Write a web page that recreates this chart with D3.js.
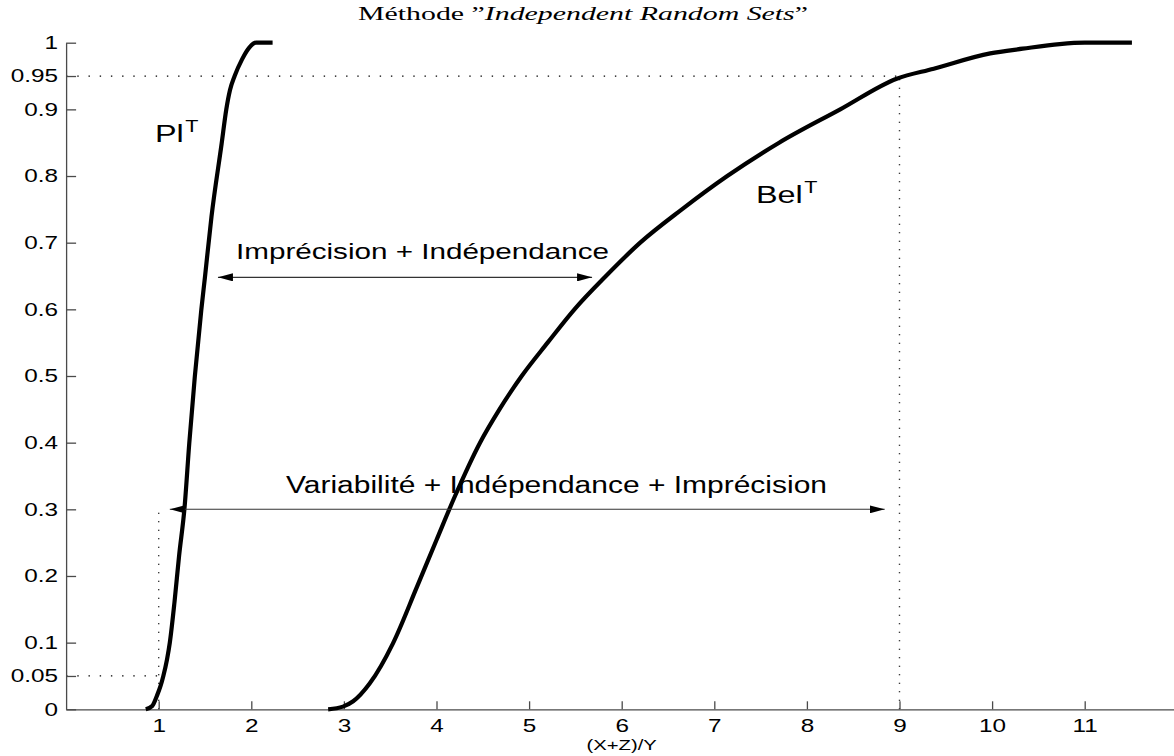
<!DOCTYPE html>
<html><head><meta charset="utf-8">
<script src="https://cdn.jsdelivr.net/npm/d3@7"></script>
<style>body{margin:0;background:#fff}svg{display:block}</style>
</head><body>
<svg id="c" width="1174" height="756"></svg>
<script>
// ---- data ----
const xTicks = [1,2,3,4,5,6,7,8,9,10,11];
const yTicks = [0,0.05,0.1,0.2,0.3,0.4,0.5,0.6,0.7,0.8,0.9,0.95,1];
const yTickLabels = ["0","0.05","0.1","0.2","0.3","0.4","0.5","0.6","0.7","0.8","0.9","0.95","1"];
const plX = [0.86,0.93,0.98,1.02,1.05,1.09,1.12,1.17,1.22,1.28,1.33,1.39,1.46,1.50,1.57,1.68,1.73,1.77,1.82,1.90,1.98,2.05,2.23];
const plY = [0,0.005,0.02,0.035,0.05,0.075,0.1,0.16,0.23,0.304,0.399,0.499,0.599,0.649,0.739,0.849,0.9,0.929,0.95,0.975,0.993,1.0,1.0];
const belX = [2.83,2.99,3.1,3.28,3.53,3.79,4.0,4.2,4.47,4.68,4.92,5.2,5.49,5.83,6.2,6.65,7.14,7.7,8.36,8.97,9.37,9.98,10.33,10.73,11.0,11.51];
const belY = [0,0.004,0.012,0.039,0.099,0.184,0.254,0.32,0.4,0.45,0.5,0.55,0.6,0.65,0.7,0.75,0.8,0.85,0.9,0.946,0.961,0.984,0.991,0.998,1.0,1.0];
const titleText = ["Méthode ”", "Independent Random Sets", "”"];
const xLabel = "(X+Z)/Y";
const curveLabels = [{name:"Pl", sup:"T", x:0.96, y:0.851},{name:"Bel", sup:"T", x:7.45, y:0.759}];
const arrows = [{x1:1.64, x2:5.68, y:0.648}, {x1:1.12, x2:8.84, y:0.3}];
const arrowTexts = [{text:"Imprécision + Indépendance", x:1.835, y:0.676, len:373, size:22},
                    {text:"Variabilité + Indépendance + Imprécision", x:2.375, y:0.324, len:541, size:23}];
const guideH = [{y:0.95, x1:0, x2:9}, {y:0.05, x1:0, x2:1.0}];
const guideV = [{x:9, y1:0, y2:0.95}, {x:1.0, y1:0, y2:0.3}];

// ---- drawing ----
const SX = 1.35;
const svg = d3.select("#c");
const x = d3.scaleLinear().domain([0,12]).range([66.1, 66.1 + 12*92.6]);
const y = d3.scaleLinear().domain([0,1]).range([709.3, 42.7]);

const defs = svg.append("defs");
defs.append("marker").attr("id","ah").attr("viewBox","0 0 15 8").attr("refX",15).attr("refY",4)
  .attr("markerWidth",15).attr("markerHeight",8).attr("markerUnits","userSpaceOnUse").attr("orient","auto-start-reverse")
  .append("path").attr("d","M0,0 L15,4 L0,8 Z").attr("fill","#000");

// guides
svg.append("g").selectAll("line").data(guideH).join("line")
  .attr("x1",d=>x(d.x1)).attr("x2",d=>x(d.x2)).attr("y1",d=>y(d.y)).attr("y2",d=>y(d.y))
  .attr("stroke","#000").attr("stroke-width",1.3).attr("stroke-dasharray","1.4,9.8");
svg.append("g").selectAll("line").data(guideV).join("line")
  .attr("x1",d=>x(d.x)).attr("x2",d=>x(d.x)).attr("y1",d=>y(d.y1)).attr("y2",d=>y(d.y2))
  .attr("stroke","#000").attr("stroke-width",1.4).attr("stroke-dasharray","1.1,7.4");

// axes
const ax = svg.append("g").attr("transform",`translate(0,${y(0)})`)
  .call(d3.axisBottom(x).tickValues(xTicks).tickFormat(d3.format("d")).tickSizeInner(-8).tickSizeOuter(0).tickPadding(10));
const ay = svg.append("g").attr("transform",`translate(${x(0)},0)`)
  .call(d3.axisLeft(y).tickValues(yTicks).tickFormat((d,i)=>yTickLabels[i]).tickSizeInner(-10).tickSizeOuter(0).tickPadding(8));
[ax, ay].forEach(g=>{
  g.select(".domain").attr("stroke","#4a4a4a").attr("stroke-width",1.3);
  g.selectAll(".tick line").attr("stroke","#4a4a4a").attr("stroke-width",1.3);
  g.selectAll(".tick text").attr("fill","#000").style("font-family","'Liberation Sans',Arial,sans-serif").style("font-size","18px");
});
ay.selectAll(".tick text").attr("x",-8/SX).attr("transform",`scale(${SX},1)`);
ax.selectAll(".tick text").attr("transform",`scale(${SX},1)`);

// curves
const line = d3.line().x(d=>x(d[0])).y(d=>y(d[1])).curve(d3.curveMonotoneX);
svg.append("path").datum(plX.map((v,i)=>[v,plY[i]])).attr("d",line)
  .attr("fill","none").attr("stroke","#000").attr("stroke-width",4.2).attr("stroke-linejoin","round");
svg.append("path").datum(belX.map((v,i)=>[v,belY[i]])).attr("d",line)
  .attr("fill","none").attr("stroke","#000").attr("stroke-width",4.2).attr("stroke-linejoin","round");

// arrows
svg.append("g").selectAll("line").data(arrows).join("line")
  .attr("x1",d=>x(d.x1)).attr("x2",d=>x(d.x2)).attr("y1",d=>y(d.y)).attr("y2",d=>y(d.y))
  .attr("stroke","#333").attr("stroke-width",1.1)
  .attr("marker-start","url(#ah)").attr("marker-end","url(#ah)");

// arrow texts
svg.append("g").selectAll("text").data(arrowTexts).join("text")
  .attr("x",d=>x(d.x)).attr("y",d=>y(d.y)).attr("textLength",d=>d.len).attr("lengthAdjust","spacingAndGlyphs")
  .style("font-family","'Liberation Sans',Arial,sans-serif").style("font-size",d=>d.size+"px").attr("fill","#000")
  .text(d=>d.text);

// curve labels
const cl = svg.append("g").selectAll("g").data(curveLabels).join("g")
  .attr("transform",d=>`translate(${x(d.x)},${y(d.y)}) scale(${SX},1)`);
cl.append("text").style("font-family","'Liberation Sans',Arial,sans-serif").style("font-size","24px")
  .each(function(d){
    const t = d3.select(this);
    t.append("tspan").text(d.name);
    t.append("tspan").attr("dy",-10).attr("dx",1).style("font-size","16px").text(d.sup);
  });

// title
const tt = svg.append("text").attr("x",583).attr("y",20).attr("text-anchor","middle")
  .style("font-family","'Liberation Serif','Times New Roman',serif").style("font-size","18px").attr("fill","#000")
  .attr("textLength",450).attr("lengthAdjust","spacingAndGlyphs");
tt.append("tspan").text(titleText[0]);
tt.append("tspan").style("font-style","italic").text(titleText[1]);
tt.append("tspan").text(titleText[2]);

// x label
svg.append("g").attr("transform",`translate(${x(6)},750) scale(${SX},1)`).append("text")
  .attr("text-anchor","middle").style("font-family","'Liberation Sans',Arial,sans-serif").style("font-size","15px")
  .text(xLabel);
</script>
</body></html>
